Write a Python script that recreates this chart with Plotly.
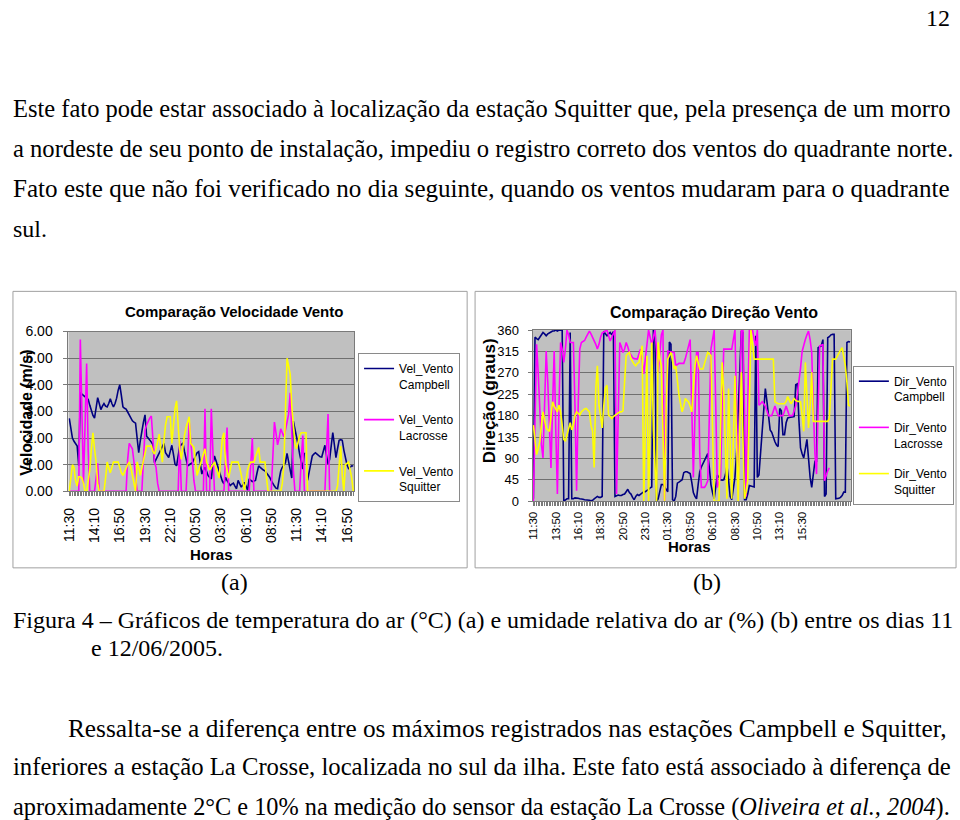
import plotly.graph_objects as go

# ---------------- data: wind speed (10-min steps, 11:30 day 1 -> 17:30 day 2) -------------
vel_campbell = [
    2.74, 2.35, 2.0, 1.88, 1.8, 1.7, 0.96, 3.72, 3.65, 3.6,
    3.55, 3.5, 3.45, 3.23, 3.0, 2.85, 2.75, 3.1, 3.52, 3.3,
    3.07, 3.2, 3.3, 3.2, 3.17, 3.3, 3.48, 3.3, 3.17, 3.3,
    3.5, 3.8, 4.0, 3.6, 3.17, 3.12, 3.09, 2.98, 2.87, 2.75,
    2.65, 2.6, 2.56, 2.0, 1.45, 1.9, 2.31, 2.6, 2.87, 2.07,
    2.0, 1.94, 1.85, 1.76, 1.08, 1.2, 1.33, 1.45, 1.55, 1.7,
    1.8, 1.45, 1.35, 1.27, 1.5, 1.73, 1.4, 1.02, 0.96, 1.3,
    1.7, 1.75, 1.82, 1.5, 1.2, 0.96, 1.0, 1.05, 1.08, 1.2,
    1.35, 1.45, 1.49, 1.1, 0.65, 0.8, 0.9, 0.75, 0.59, 0.52,
    0.47, 1.0, 1.33, 1.15, 0.96, 0.7, 0.49, 0.38, 0.28, 0.53,
    0.4, 0.3, 0.22, 0.27, 0.31, 0.2, 0.1, 0.41, 0.3, 0.16,
    0.25, 0.34, 0.2, 0.04, 0.47, 0.42, 0.37, 0.39, 0.41, 0.7,
    0.96, 0.9, 0.84, 0.8, 0.77, 0.7, 0.6, 0.53, 0.4, 0.28,
    0.2, 0.12, 0.1, 0.45, 0.77, 0.9, 1.0, 1.08, 1.43, 1.1,
    0.84, 0.5, 2.64, 2.37, 2.05, 1.76, 1.4, 1.08, 0.84, 1.45,
    None, 0.41, 0.7, 1.0, 1.33, 1.4, 1.45, 1.4, 1.33, 1.3,
    1.29, 1.5, 1.73, 1.35, 1.02, 1.2, 1.7, 2.21, 1.75, 1.27,
    1.6, 1.92, 1.94, 1.92, 1.55, 1.2, 1.0, 0.86, 0.9, 0.96,
    0.95,
]
vel_lacrosse = [
    0, 0, 0, 0, 0, 0, 0, 5.7, 2.5, 0.3,
    2.5, 4.8, 1.5, 0, 0, 0, 0, 0.5, 1.05, 0,
    0, 0, 0, 0, 0, 0, 0, 0, 0, 0,
    0, 0, 0, 0, 0, 0, 0, 1.2, 1.8, 1.7,
    1.6, 1.1, 0.5, 0, 0, 0, 0, 1.2, 2.3, 2.5,
    2.65, 2.75, 2.83, 2.0, 1.1, 0.9, 0.3, 0, 0, 0,
    0, 0, 0, 0, 0, 0, 0, 0, 0, 0,
    1.9, 0, 0, 0, 0, 1.2, 2.6, 1.9, 1.0, 0.4,
    0, 0, 0, 0, 0, 0, 3.1, 0, 0, 0,
    3.1, 1.5, 0, 0, 0, 0, 0, 0, 0, 1.2,
    2.4, 0, 0, 0, 0, 0, 0, 0, 0, 0,
    0, 0, 0, 0, 0, 1.0, 2.0, 0, 0, 0,
    0, 0, 0, 0, 0, 0, 0, 0, 0, 1.3,
    2.6, 2.2, 1.75, 2.0, 2.35, 2.2, 2.05, 2.3, 2.6, 2.9,
    3.7, 2.0, 0.8, 0, 0, 0, 0, 1.2, 2.1, 0,
    0, 0, 0, 0, 0, 0, 0, 0, 0, 0,
    0, 0, 0, 1.5, 2.9, 0, 0, None, None, None,
    None, None, None, None, None, None, None, None, None, None,
    None,
]
vel_squitter = [
    0, 0.5, 1.0, 0.9, 0.4, 0.2, 0.55, 0.55, 0.5, 0.3,
    0, 0, 0.5, 0.8, 1.6, 2.2, 1.6, 1.1, 0.3, 0,
    0, 0, 0, 0.5, 1.1, 0.9, 0.7, 0.9, 1.1, 1.1,
    1.1, 1.1, 0.9, 0.7, 0.6, 0.75, 0.9, 1.0, 1.1, 0.9,
    0.6, 0.3, 0, 1.1, 0.9, 0.6, 0.9, 1.2, 1.45, 1.7,
    1.7, 1.7, 1.7, 1.5, 1.4, 1.6, 1.9, 2.15, 1.6, 1.1,
    1.9, 2.5, 2.8, 2.8, 2.8, 1.8, 2.5, 3.1, 3.4, 2.5,
    1.6, 1.2, 1.7, 2.1, 2.4, 2.6, 2.8, 1.8, 1.7, 1.65,
    1.1, 0.6, 0.8, 1.0, 1.2, 1.4, 1.6, 1.1, 0.95, 0.8,
    0.9, 1.0, 1.1, 0.9, 0.7, 0.5, 1.3, 2.0, 2.2, 1.1,
    0.8, 0.5, 0.8, 1.1, 1.1, 1.1, 1.1, 1.1, 0.9, 0.6,
    0.4, 0.05, 0.4, 0.8, 1.0, 1.1, 1.1, 1.1, 1.3, 1.5,
    1.65, 1.1, 1.1, 1.1, 1.1, 0.5, 0, 0, 0, 0,
    0, 0, 0, 0, 0, 0.3, 1.0, 3.0, 5.0, 4.7,
    4.4, 3.2, 2.6, 1.8, 1.6, 1.9, 2.1, 2.2, 2.2, 2.2,
    2.2, 0, 0, 0, 0, 0, 0, 0, 0, 0,
    0, 0, 0, 0, 0, 0, 0, 0, 0, 0,
    0.2, 1.0, 1.7, 0.6, 0, 1.0, 1.05, 1.1, 0.8, 0.5,
    0,
]
vel_tick_labels = ["11:30", "14:10", "16:50", "19:30", "22:10", "00:50",
                   "03:30", "06:10", "08:50", "11:30", "14:10", "16:50"]
vel_label_step = 16

# ---------------- data: wind direction (10-min steps) ----------------
dir_campbell = [
    5, 345, 342, 340, 345, 350, 355, 352, 348, 352,
    355, 356, 358, 358, 360, 358, 360, 360, 360, 0,
    2, 5, 5, 355, 5, 5, 7, 7, 6, 5,
    5, 4, 3, 3, 2, 2, 1, 2, 5, 8,
    10, 8, 8, 10, 358, 352, 348, 352, 355, 350,
    357, 10, 12, 13, 12, 12, 14, 15, 20, 25,
    18, 15, 8, 3, 10, 14, 12, 15, 18, 20,
    20, 22, 25, 28, 30, 360, 355, 0, 5, 20,
    35, 35, 30, 25, 20, 335, 330, 3, 0, 10,
    38, 40, 42, 45, 60, 62, 62, 60, 58, 40,
    18, 10, 5, 35, 62, 72, 80, 86, 92, 100,
    70, 35, 18, 5, 30, 55, 50, 45, 44, 45,
    55, 75, 45, 10, 3, 30, 50, 100, 200, 300,
    358, 355, 3, 3, 15, 33, 32, 30, 30, 348,
    50, 55, 100, 147, 190, 237, 210, 175, 150, 145,
    133, 125, 118, 115, 195, 190, 140, 140, 165, 175,
    176, 177, 178, 178, 245, 247, 170, 112, 100, 91,
    110, 130, 90, 50, 29, 60, 84, 84, 323, 325,
    327, 340, 10, 15, 344, 346, 350, 351, 351, 5,
    5, 6, 8, 12, 19, 19, 334, 336, 335,
]
dir_lacrosse = [
    0, 200, 330, 270, 180, 120, 91, 200, 316, 250,
    150, 70, 200, 316, 150, 15, 200, 334, 320, 292,
    320, 360, 350, 334, 334, 334, 200, 22, 200, 320,
    334, 336, 338, 345, 352, 358, 352, 345, 340, 330,
    320, 330, 345, 354, 356, 358, 360, 348, 337, 345,
    351, 360, 15, 180, 334, 325, 313, 320, 334, 325,
    313, 308, 302, 300, 300, 299, 310, 320, 295, 268,
    300, 330, 360, 345, 330, 345, 360, 320, 271, 310,
    350, 360, 0, 200, 316, 315, 314, 313, 313, 285,
    287, 290, 290, 290, 290, 300, 313, 325, 340, 200,
    50, 180, 313, 313, 100, 29, 29, 29, 35, 43,
    180, 320, 340, 360, 200, 29, 40, 50, 200, 320,
    320, 320, 320, 320, 320, 340, 360, 200, 43, 200,
    360, 360, 180, 10, 200, 360, 360, 360, 340, 327,
    360, 202, 205, 209, 205, 200, 190, 180, 180, 180,
    190, 200, 190, 180, 180, 180, 180, 190, 200, 190,
    180, 180, 180, 190, 200, 225, 250, 280, 315, 330,
    340, 350, 358, 340, 313, 200, 100, 57, 200, 327,
    328, 330, 43, 55, 64, 70, None, None, None, None,
    None, None, None, None, None, None, None, None, None,
]
dir_squitter = [
    160, 125, 98, 110, 126, 160, 188, 170, 154, 150,
    147, 180, 209, 200, 195, 188, 202, 188, 160, 130,
    126, 140, 154, 165, 150, 160, 180, 188, 185, 181,
    188, 192, 194, 195, 192, 188, 160, 147, 71, 237,
    285, 202, 180, 154, 200, 237, 244, 181, 178, 174,
    178, 181, 183, 185, 188, 188, 190, 250, 306, 310,
    313, 300, 292, 288, 285, 290, 292, 310, 327, 0,
    150, 306, 0, 200, 334, 150, 60, 0, 334, 300,
    285, 150, 0, 200, 299, 306, 313, 295, 278, 285,
    250, 223, 205, 188, 200, 216, 212, 209, 200, 188,
    240, 285, 306, 290, 278, 278, 278, 290, 300, 313,
    310, 306, 150, 0, 0, 0, 0, 150, 292, 230,
    100, 5, 237, 120, 5, 130, 264, 130, 0, 150,
    271, 130, 5, 20, 45, 200, 360, 330, 299, 299,
    299, 299, 299, 299, 299, 299, 299, 299, 299, 299,
    299, 209, 207, 205, 205, 205, 205, 205, 210, 220,
    212, 205, 210, 216, 212, 210, 210, 209, 180, 147,
    292, 220, 154, 200, 271, 168, 168, 168, 168, 168,
    168, 168, 168, 168, 168, 174, 240, 299, 299, 299,
    305, 313, 318, 323, 300, 285, 250, 202, 200,
]
dir_tick_labels = ["11:30", "13:50", "16:10", "18:30", "20:50", "23:10", "01:30",
                   "03:50", "06:10", "08:30", "10:50", "13:10", "15:30"]
dir_label_step = 14

# ---------------- helpers ----------------
W, H = 960, 820
def px(x):
    return x / W
def py(y):
    return 1 - y / H

NAVY, MAGENTA, YELLOW = "#000080", "#FF00FF", "#FFFF00"
SANS = "Arial, Liberation Sans, sans-serif"
SERIF = "Times New Roman, Liberation Serif, serif"
GRID = "#6f6f6f"
AXLINE = "#7a7a7a"

fig = go.Figure()

nv = len(vel_campbell)
xv = list(range(nv))
for name, ys, col, grp in [("Vel_Vento<br>Campbell", vel_campbell, NAVY, "a"),
                           ("Vel_Vento<br>Lacrosse", vel_lacrosse, MAGENTA, "b"),
                           ("Vel_Vento<br>Squitter", vel_squitter, YELLOW, "c")]:
    fig.add_trace(go.Scatter(x=xv, y=ys, mode="lines", name=name,
                             line=dict(color=col, width=1.6),
                             xaxis="x", yaxis="y", legend="legend",
                             legendgroup=grp, connectgaps=False))

nd = len(dir_campbell)
xd = list(range(nd))
for name, ys, col, grp in [("Dir_Vento<br>Campbell", dir_campbell, NAVY, "d"),
                           ("Dir_Vento<br>Lacrosse", dir_lacrosse, MAGENTA, "e"),
                           ("Dir_Vento<br>Squitter", dir_squitter, YELLOW, "f")]:
    fig.add_trace(go.Scatter(x=xd, y=ys, mode="lines", name=name,
                             line=dict(color=col, width=1.6),
                             xaxis="x2", yaxis="y2", legend="legend2",
                             legendgroup=grp, connectgaps=False))

common_x = dict(showgrid=False, zeroline=False, showline=True, linecolor=AXLINE,
                mirror=True, ticks="outside", ticklen=4, tickcolor=AXLINE,
                tickangle=-90, tickmode="array",
                minor=dict(tickmode="linear", tick0=0, dtick=1, ticks="outside",
                           ticklen=4, tickcolor=AXLINE, showgrid=False))
common_y = dict(showgrid=True, gridcolor=GRID, gridwidth=1, zeroline=False,
                showline=True, linecolor=AXLINE, mirror=True, ticks="outside",
                ticklen=4, tickcolor=AXLINE)

fig.update_layout(
    width=W, height=H, margin=dict(l=0, r=0, t=0, b=0),
    paper_bgcolor="white", plot_bgcolor="#C0C0C0",
    font=dict(family=SANS, color="black"),
    showlegend=True,
    xaxis=dict(domain=[px(61), px(349)], range=[-0.5, nv - 0.5], anchor="y",
               tickvals=[i * vel_label_step for i in range(len(vel_tick_labels))],
               ticktext=vel_tick_labels, tickfont=dict(size=14, family=SANS),
               ticklabelstandoff=6, **common_x),
    yaxis=dict(domain=[py(493), py(330)], range=[0, 6], dtick=1, tickformat=".2f",
               anchor="x", tickfont=dict(size=14, family=SANS),
               ticklabelstandoff=8, **common_y),
    xaxis2=dict(domain=[px(529), px(850)], range=[-0.5, nd - 0.5], anchor="y2",
                tickvals=[i * dir_label_step for i in range(len(dir_tick_labels))],
                ticktext=dir_tick_labels, tickfont=dict(size=11.5, family=SANS),
                ticklabelstandoff=1, **common_x),
    yaxis2=dict(domain=[py(503), py(328.5)], range=[0, 360], dtick=45,
                anchor="x2", tickfont=dict(size=13, family=SANS),
                ticklabelstandoff=6, **common_y),
    legend=dict(x=px(353), y=py(352), xanchor="left", yanchor="top",
                bgcolor="white", bordercolor="#8a8a8a", borderwidth=1,
                font=dict(size=12, family=SANS), tracegroupgap=17,
                valign="top", itemwidth=30),
    legend2=dict(x=px(852), y=py(365), xanchor="left", yanchor="top",
                 bgcolor="white", bordercolor="#8a8a8a", borderwidth=1,
                 font=dict(size=12, family=SANS), tracegroupgap=12,
                 valign="top", itemwidth=30),
)

# chart frames
shapes = [
    dict(type="rect", xref="paper", yref="paper", x0=px(5), x1=px(463),
         y0=py(571), y1=py(289), line=dict(color="#a0a0a0", width=1), layer="below"),
    dict(type="rect", xref="paper", yref="paper", x0=px(471), x1=px(956),
         y0=py(571), y1=py(289), line=dict(color="#a0a0a0", width=1), layer="below"),
]
fig.update_layout(shapes=shapes)

ann = []
def text(x, y, s, size, family=SERIF, xanchor="left", angle=0, bold=False):
    if bold:
        s = "<b>" + s + "</b>"
    ann.append(dict(x=px(x), y=py(y), xref="paper", yref="paper", text=s,
                    showarrow=False, xanchor=xanchor, yanchor="middle",
                    textangle=angle, font=dict(size=size, family=family, color="black")))

# chart titles / axis titles
text(228, 310, "Comparação Velocidade Vento", 15, SANS, "center", bold=True)
text(712, 311, "Comparação Direção Vento", 16, SANS, "center", bold=True)
text(19, 413, "Velocidade (m/s)", 16, SANS, "center", angle=-90, bold=True)
text(485, 400, "Direção (graus)", 17, SANS, "center", angle=-90, bold=True)
text(205, 557, "Horas", 15, SANS, "center", bold=True)
text(687, 549, "Horas", 15, SANS, "center", bold=True)

# page text (sizes chosen so justified lines span the text block)
text(952, 10, "12", 24, SERIF, "right")
text(3, 102, "Este fato pode estar associado à localização da estação Squitter que, pela presença de um morro", 24.5)
text(3, 143, "a nordeste de seu ponto de instalação, impediu o registro correto dos ventos do quadrante norte.", 24.6)
text(3, 184, "Fato este que não foi verificado no dia seguinte, quando os ventos mudaram para o quadrante", 25.1)
text(3, 225, "sul.", 24)
text(228, 585, "(a)", 24, SERIF, "center")
text(705, 585, "(b)", 24, SERIF, "center")
text(3, 624, "Figura 4 – Gráficos de temperatura do ar (°C) (a) e umidade relativa do ar (%) (b) entre os dias 11", 24.0)
text(82, 653, "e 12/06/2005.", 24)
text(58, 734, "Ressalta-se a diferença entre os máximos registrados nas estações Campbell e Squitter,", 25.3)
text(3, 774, "inferiores a estação La Crosse, localizada no sul da ilha. Este fato está associado à diferença de", 24.7)
text(3, 815, "aproximadamente 2°C e 10% na medição do sensor da estação La Crosse (<i>Oliveira et al., 2004</i>).", 24.3)

fig.update_layout(annotations=ann)

fig.write_html("out.html", config={"displayModeBar": False})
